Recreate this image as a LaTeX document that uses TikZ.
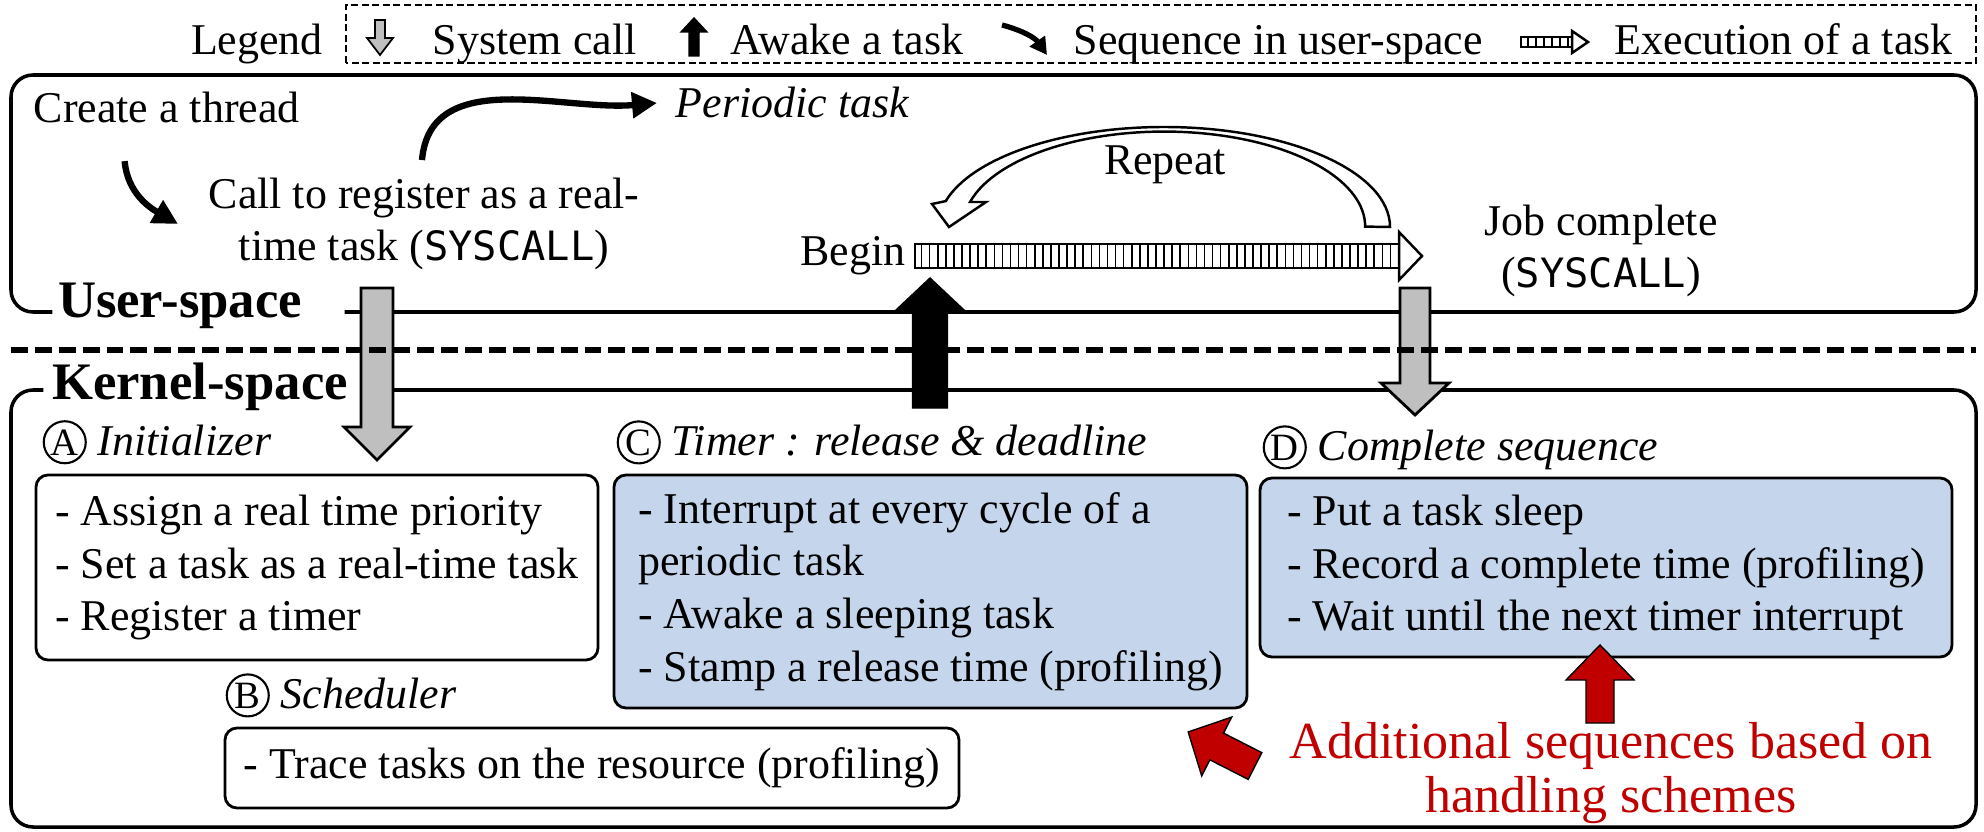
\documentclass[tikz,border=0pt]{standalone}
\usepackage{fontspec}
\setmainfont{Liberation Serif}
\newfontfamily\codefont{DejaVu Sans Mono}
\usepackage{xcolor,tikz}
\usetikzlibrary{positioning,calc,arrows.meta,patterns.meta}
\definecolor{rtsBlueFill}{HTML}{C5D5EB}
\definecolor{rtsGreyFill}{HTML}{BFBFBF}
\definecolor{rtsRed}{HTML}{C00000}

\newcommand{\stagemark}[1]{\tikz[baseline=(m.base)]\node[draw, circle,
  line width=0.6pt, inner sep=0pt, minimum size=0.42cm,
  font=\normalfont\fontsize{11}{11}\selectfont] (m) {#1};}
\newcommand{\codeword}[1]{{\codefont\fontsize{11.5}{15}\selectfont #1}}
% block arrow: style, x, y start, y head base, y tip, half shaft, half head
\newcommand{\blockarrow}[7]{%
  \draw[#1] (#2-#6,#3) -- (#2-#6,#4) -- (#2-#7,#4) -- (#2,#5)
    -- (#2+#7,#4) -- (#2+#6,#4) -- (#2+#6,#3) -- cycle;}
% striped arrow: x start, x head base, x tip, y, half shaft, half head
\newcommand{\execarrow}[6]{%
  \draw[execbar] (#1,#4-#5) rectangle (#2,#4+#5);
  \draw[line width=0.7pt, fill=white] (#2,#4-#6) -- (#3,#4) -- (#2,#4+#6) -- cycle;}

\tikzset{
  txt/.style={inner sep=0pt},
  spacebox/.style={line width=1pt, rounded corners=0.22cm},
  spacelabel/.style={inner sep=0pt, anchor=base,
    font=\fontsize{15}{18}\selectfont\bfseries},
  legendbox/.style={line width=0.6pt, dash pattern=on 2pt off 1pt},
  taskbox/.style={draw, line width=0.8pt, rounded corners=0.12cm,
    align=left, inner sep=0pt},
  seqarrow/.style={line width=1.8pt, -{Triangle[length=0.25cm, width=0.25cm]}},
  callblock/.style={draw, line width=0.8pt, fill=rtsGreyFill},
  wakeblock/.style={fill=black},
  addblock/.style={fill=rtsRed},
  hollowarrow/.style={draw, line width=0.7pt, fill=white},
  execbar/.style={line width=0.7pt,
    pattern={Lines[angle=90, distance=2.3pt, line width=0.45pt]}},
  splitline/.style={line width=1.5pt, dash pattern=on 4.8pt off 2pt},
}

\begin{document}
\begin{tikzpicture}[font=\fontsize{12.5}{15}\selectfont]
\useasboundingbox (0,0) rectangle (19.84,8.31);

%% Legend ==========================================================
\node[txt, anchor=base] (legendlab) at (2.57,7.76) {Legend};
\draw[legendbox] (3.46,7.68) rectangle (19.76,8.26);
\foreach [count=\i] \kx/\klab in {%
  4.32/System call,%
  7.30/Awake a task,%
  10.73/Sequence in user-space,%
  16.14/Execution of a task%
} {
  \node[txt, anchor=base west] (key\i) at (\kx,7.76) {\klab};
}
\blockarrow{callblock, line width=0.5pt}{3.80}{8.11}{7.93}{7.76}{0.05}{0.13}
\blockarrow{wakeblock}{6.94}{7.75}{7.99}{8.13}{0.05}{0.13}
\draw[line width=1.5pt, -{Triangle[length=0.17cm, width=0.18cm]}]
  (10.02,8.06) to[out=-15, in=125] (10.47,7.76);
\execarrow{15.21}{15.72}{15.88}{7.89}{0.05}{0.11}

%% User-space ======================================================
\coordinate (userline) at (0,5.19);
\coordinate (kernline) at (0,4.41);
\node[spacelabel] (userlab) at (1.80,5.13) {User-space};
\draw[spacebox] ($(userlab.east |- userline)+(0.42,0)$) -- (19.76,5.19)
  -- (19.76,7.56) -- (0.11,7.56) -- (0.11,5.19)
  -- ($(userlab.west |- userline)+(-0.05,0)$);

\node[txt, anchor=base west] (create) at (0.33,7.08) {Create a thread};
\node[txt, align=center] (register) at (4.24,6.07)
  {Call to register as a real-\\time task (\codeword{SYSCALL})};
\node[txt, anchor=base west] (periodic) at (6.75,7.13) {\textit{Periodic task}};
\draw[seqarrow] ([xshift=-0.42cm, yshift=-0.37cm]create.south)
  to[out=-85, in=150] ([xshift=-0.3cm]register.west);
\draw[seqarrow] ([xshift=-0.02cm, yshift=0.17cm]register.north)
  to[out=85, in=185] ([xshift=-0.18cm]periodic.west);

% one job of the periodic task
\node[txt, anchor=base east] (begin) at (9.06,5.65) {Begin};
\execarrow{9.15}{13.99}{14.22}{5.75}{0.12}{0.24}
\node[txt, anchor=base] (repeat) at (11.65,6.56) {Repeat};
\draw[hollowarrow] (13.90,6.04)
  arc[start angle=0, end angle=165, x radius=2.26, y radius=1.0]
  -- (9.32,6.27) -- (9.49,6.04) -- (9.86,6.29) -- (9.70,6.29)
  arc[start angle=165, end angle=0, x radius=2.01, y radius=0.95] -- cycle;
\node[txt, align=center] (jobdone) at (16.01,5.80)
  {Job complete\\(\codeword{SYSCALL})};

%% Kernel-space ====================================================
\node[spacelabel] (kernlab) at (2.00,4.31) {Kernel-space};
\draw[spacebox] ($(kernlab.east |- kernline)+(0.15,0)$) -- (19.76,4.41)
  -- (19.76,0.04) -- (0.11,0.04) -- (0.11,4.41)
  -- ($(kernlab.west |- kernline)+(-0.08,0)$);

% system calls and wake-up
\blockarrow{callblock}{3.77}{5.43}{4.04}{3.71}{0.16}{0.33}
\blockarrow{callblock}{14.15}{5.43}{4.48}{4.16}{0.15}{0.34}
\blockarrow{wakeblock}{9.30}{4.23}{5.21}{5.53}{0.175}{0.34}
\draw[splitline] (0.11,4.81) -- (19.76,4.81);

\node[txt, anchor=base west] (headA) at (0.42,3.76)
  {\stagemark{A} \textit{Initializer}};
\node[taskbox, minimum width=5.62cm, minimum height=1.85cm] (initbox) at (3.17,2.635)
  {- Assign a real time priority\\- Set a task as a real-time task\\- Register a timer};

\node[txt, anchor=base west] (headB) at (2.25,1.23)
  {\stagemark{B} \textit{Scheduler}};
\node[taskbox, minimum width=7.34cm, minimum height=0.80cm] (schedbox) at (5.92,0.63)
  {- Trace tasks on the resource (profiling)};

\node[txt, anchor=base west] (headC) at (6.16,3.76)
  {\stagemark{C} \textit{Timer : release \& deadline}};
\node[taskbox, fill=rtsBlueFill, minimum width=6.33cm, minimum height=2.33cm]
  (timerbox) at (9.305,2.395)
  {- Interrupt at every cycle of a\\periodic task\\- Awake a sleeping task\\%
   - Stamp a release time (profiling)};

\node[txt, anchor=base west] (headD) at (12.62,3.71)
  {\stagemark{D} \textit{Complete sequence}};
\node[taskbox, fill=rtsBlueFill, minimum width=6.92cm, minimum height=1.79cm]
  (donebox) at (16.06,2.635)
  {- Put a task sleep\\- Record a complete time (profiling)\\%
   - Wait until the next timer interrupt};

% handling schemes
\blockarrow{addblock}{16.00}{1.08}{1.51}{1.86}{0.14}{0.34}
\begin{scope}[shift={(12.55,0.65)}, rotate=63]
  \blockarrow{addblock}{0}{0}{0.43}{0.75}{0.15}{0.33}
\end{scope}
\node[txt, align=center, text=rtsRed, font=\fontsize{14.8}{15.3}\selectfont]
  (addnote) at (16.11,0.58) {Additional sequences based on\\handling schemes};

\end{tikzpicture}
\end{document}
